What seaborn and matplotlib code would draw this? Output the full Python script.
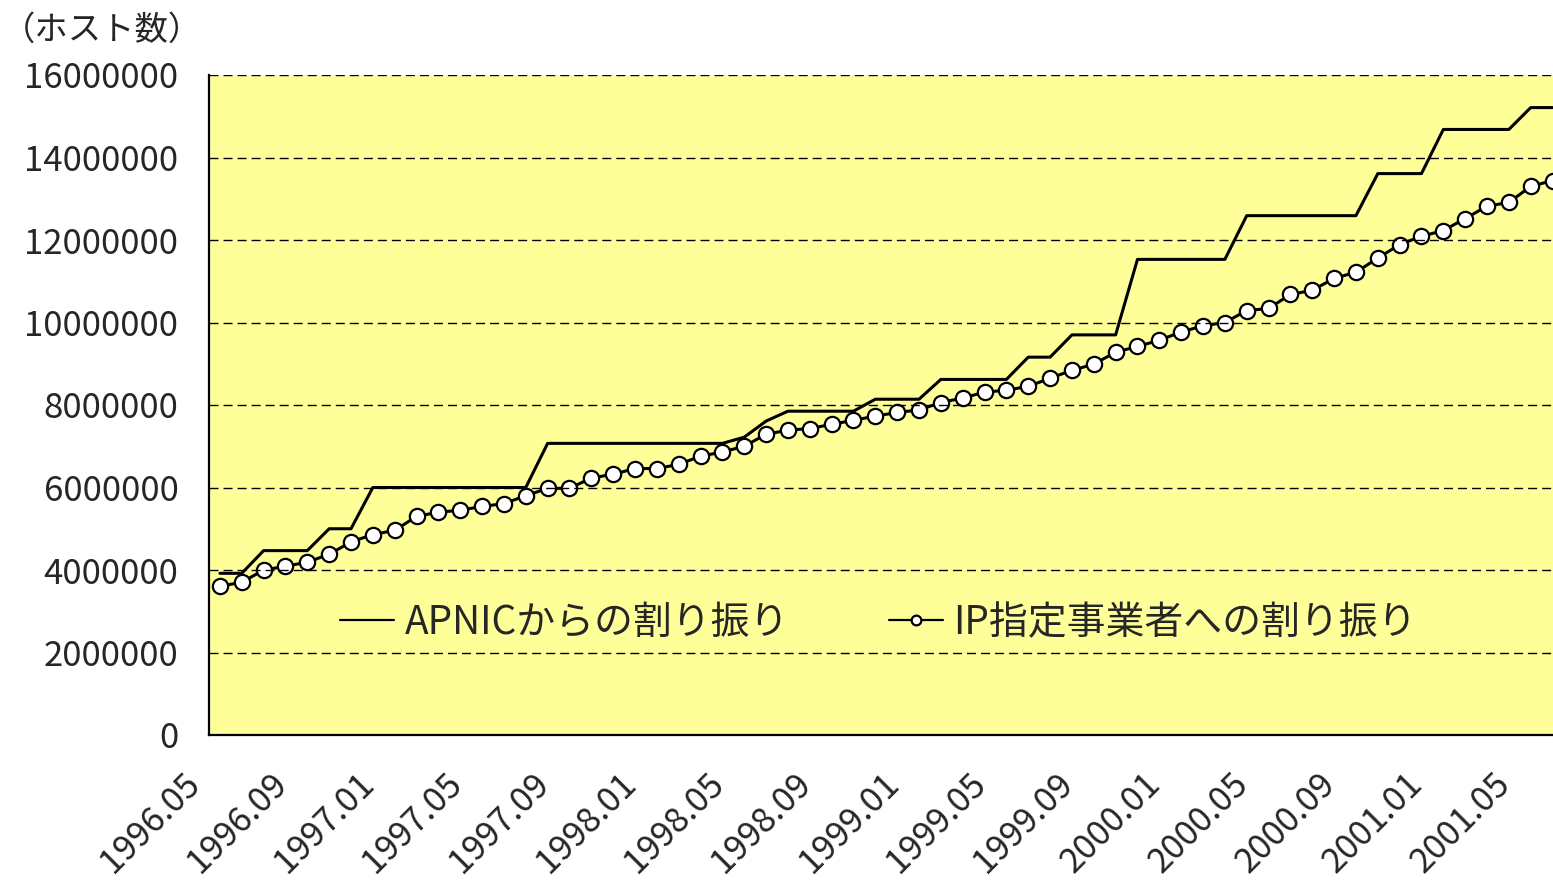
import numpy as np
import pandas as pd
import seaborn as sns
import matplotlib.pyplot as plt
from matplotlib.transforms import ScaledTranslation

# monthly host counts, 1996.05 - 2001.06
months = [p.strftime("%Y.%m") for p in pd.period_range("1996-05", "2001-06", freq="M")]

apnic = [3920000, 3920000, 4470000, 4470000, 4470000, 5000000, 5000000,
         6000000, 6000000, 6000000, 6000000, 6000000, 6000000, 6000000, 6000000,
         7070000, 7070000, 7070000, 7070000, 7070000, 7070000, 7070000, 7070000, 7070000,
         7220000, 7610000, 7850000, 7850000, 7850000, 7850000,
         8140000, 8140000, 8140000, 8620000, 8620000, 8620000, 8620000,
         9160000, 9160000, 9700000, 9700000, 9700000,
         11530000, 11530000, 11530000, 11530000, 11530000,
         12590000, 12590000, 12590000, 12590000, 12590000, 12590000,
         13610000, 13610000, 13610000, 14680000, 14680000, 14680000, 14680000,
         15210000, 15210000]

ip_alloc = [3610000, 3700000, 4000000, 4090000, 4190000, 4380000, 4680000, 4860000,
            4960000, 5300000, 5400000, 5450000, 5540000, 5610000, 5800000, 5980000,
            5980000, 6230000, 6320000, 6460000, 6460000, 6560000, 6760000, 6860000,
            7000000, 7290000, 7390000, 7430000, 7530000, 7630000, 7730000, 7820000,
            7880000, 8060000, 8170000, 8310000, 8360000, 8450000, 8650000, 8840000,
            8990000, 9280000, 9420000, 9570000, 9770000, 9920000, 10000000, 10290000,
            10340000, 10680000, 10780000, 11070000, 11220000, 11560000, 11890000, 12090000,
            12230000, 12520000, 12820000, 12910000, 13300000, 13440000]

tick_labels = ["1996.05", "1996.09", "1997.01", "1997.05", "1997.09", "1998.01",
               "1998.05", "1998.09", "1999.01", "1999.05", "1999.09", "2000.01",
               "2000.05", "2000.09", "2001.01", "2001.05"]

y_ticks = [0, 2000000, 4000000, 6000000, 8000000, 10000000, 12000000, 14000000, 16000000]

label_apnic = "APNICからの割り振り"
label_ip = "IP指定事業者への割り振り"

sns.set_theme(style="white")
plt.rcParams['font.family'] = ['Noto Sans CJK JP', 'DejaVu Sans']

df = pd.DataFrame({"idx": np.arange(len(months)), "month": months,
                   "apnic": apnic, "ip": ip_alloc})

fig = plt.figure(figsize=(15.53, 8.83), dpi=100)
ax = fig.add_axes([209 / 1553, 1 - 735 / 883, 1 - 209 / 1553, (735 - 75) / 883])
ax.set_facecolor("#FFFF99")

sns.lineplot(data=df, x="idx", y="apnic", ax=ax, color="black", linewidth=2.2,
             label=label_apnic)
sns.lineplot(data=df, x="idx", y="ip", ax=ax, color="black", linewidth=2.2,
             marker="o", markersize=11, markerfacecolor="white",
             markeredgecolor="black", markeredgewidth=1.6, label=label_ip)

ax.set_xlim(-0.5, 61.02)
ax.set_ylim(0, 16000000)
ax.set_yticks(y_ticks)
ax.set_yticklabels([str(v) for v in y_ticks], fontsize=25)
ax.yaxis.grid(True, color="black", linestyle=(0, (6.5, 3.6)), linewidth=1.0)
ax.set_axisbelow(False)

# tick marks at the start of every 4th month, labels placed by hand
tick_pos = np.arange(len(tick_labels)) * 4 - 0.5
ax.set_xticks(tick_pos)
ax.set_xticklabels([])
lab_trans = ax.get_xaxis_transform() + ScaledTranslation(-0.27, -0.31, fig.dpi_scale_trans)
for x, t in zip(tick_pos, tick_labels):
    ax.text(x, 0, t, transform=lab_trans, fontsize=25, rotation=45, ha="right",
            va="top", rotation_mode="anchor", clip_on=False)

ax.tick_params(axis="x", direction="in", length=9, width=1.2, color="black")
ax.tick_params(axis="y", length=0, pad=22)
ax.set_xlabel("")
ax.set_ylabel("")

for side in ["top", "right"]:
    ax.spines[side].set_visible(False)
for side in ["left", "bottom"]:
    ax.spines[side].set_color("black")
    ax.spines[side].set_linewidth(1.6)

leg = ax.legend(loc="center", bbox_to_anchor=(0.498, 0.170), ncol=2, frameon=False,
                fontsize=28, handlelength=1.39, handletextpad=0.26, columnspacing=2.57)
for h in leg.legend_handles:
    h.set_linewidth(1.6)
    h.set_markersize(7)

fig.text(2 / 1553, 1 - 30 / 883, "（ホスト数）", fontsize=24, ha="left", va="center")

fig.savefig("out.png", dpi=100)
